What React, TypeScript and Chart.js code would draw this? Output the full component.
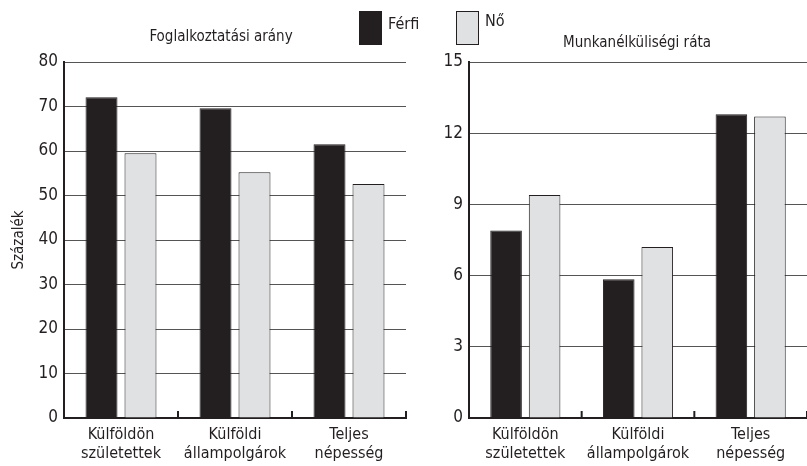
import React, { useEffect, useRef } from 'react';
import { Chart, registerables } from 'chart.js';

Chart.register(...registerables);

const categories = [
  ['Külföldön', 'születettek'],
  ['Külföldi', 'állampolgárok'],
  ['Teljes', 'népesség'],
];
const seriesNames = ['Férfi', 'Nő'];
const employmentMale = [72.1, 69.6, 61.5];
const employmentFemale = [59.5, 55.2, 52.6];
const unemploymentMale = [7.9, 5.85, 12.8];
const unemploymentFemale = [9.4, 7.2, 12.7];
const employmentTicks = [0, 10, 20, 30, 40, 50, 60, 70, 80];
const unemploymentTicks = [0, 3, 6, 9, 12, 15];
const leftTitle = 'Foglalkoztatási arány';
const rightTitle = 'Munkanélküliségi ráta';
const yAxisTitle = 'Százalék';

const FONT = '"Liberation Sans Narrow", "DejaVu Sans Condensed", "Roboto Condensed", "Liberation Sans", sans-serif';
const BLACK = '#231f20';
const GRAY = '#e0e1e3';

const insideTicks = {
  id: 'insideTicks',
  afterDraw(chart: any) {
    const x = chart.scales.x;
    const ctx = chart.ctx;
    const n = chart.data.labels.length;
    const bottom = chart.chartArea.bottom;
    const step = x.getPixelForValue(1) - x.getPixelForValue(0);
    ctx.save();
    ctx.strokeStyle = BLACK;
    ctx.lineWidth = 2;
    for (let i = 0; i < n; i++) {
      const px = Math.min(x.getPixelForValue(i) + step / 2, chart.chartArea.right);
      ctx.beginPath();
      ctx.moveTo(px, bottom);
      ctx.lineTo(px, bottom - 7);
      ctx.stroke();
    }
    ctx.restore();
  },
};

function makeConfig(male: number[], female: number[], ticks: number[], yWidth: number, showTitle: boolean, padRight: number) {
  return {
    type: 'bar' as const,
    data: {
      labels: categories,
      datasets: [
        { label: seriesNames[0], data: male, backgroundColor: BLACK, borderColor: BLACK, borderWidth: 1 },
        { label: seriesNames[1], data: female, backgroundColor: GRAY, borderColor: BLACK, borderWidth: 1 },
      ],
    },
    options: {
      animation: false as const,
      responsive: false,
      maintainAspectRatio: false,
      datasets: { bar: { categoryPercentage: 0.684, barPercentage: 0.82 } },
      layout: { padding: { top: 62, right: padRight, left: 0, bottom: 0 } },
      plugins: { legend: { display: false }, title: { display: false }, tooltip: { enabled: false } },
      scales: {
        x: {
          offset: true,
          grid: { display: false, drawTicks: false },
          border: { display: true, color: BLACK, width: 2 },
          ticks: { color: BLACK, font: { family: FONT, size: 16, lineHeight: 1.15 }, padding: 8, maxRotation: 0, autoSkip: false },
          afterFit: (s: any) => { s.height = 48; },
        },
        y: {
          min: ticks[0],
          max: ticks[ticks.length - 1],
          afterBuildTicks: (s: any) => { s.ticks = ticks.map((v) => ({ value: v })); },
          grid: { color: '#555', lineWidth: 1, drawTicks: false },
          border: { display: true, color: BLACK, width: 2 },
          ticks: { color: BLACK, font: { family: FONT, size: 17 }, padding: 6 },
          title: { display: showTitle, text: yAxisTitle, color: BLACK, font: { family: FONT, size: 15 }, padding: { top: 10, bottom: 0 } },
          afterFit: (s: any) => { s.width = yWidth; },
        },
      },
    },
    plugins: [insideTicks],
  };
}

function BarPanel(props: { male: number[]; female: number[]; ticks: number[]; yWidth: number; showTitle: boolean; width: number; padRight: number }) {
  const ref = useRef<HTMLCanvasElement>(null);
  useEffect(() => {
    const chart = new Chart(ref.current as HTMLCanvasElement, makeConfig(props.male, props.female, props.ticks, props.yWidth, props.showTitle, props.padRight) as any);
    return () => chart.destroy();
  }, []);
  return <canvas ref={ref} width={props.width} height={466} style={{ display: 'block', width: props.width, height: 466 }} />;
}

const textStyle: React.CSSProperties = {
  position: 'absolute',
  fontFamily: FONT,
  color: BLACK,
  whiteSpace: 'nowrap',
  lineHeight: 1,
};

export default function App() {
  return (
    <div style={{ position: 'fixed', left: 0, top: 0, width: 807, height: 466, background: '#fff', overflow: 'hidden' }}>
      <div style={{ position: 'absolute', left: 0, top: 0 }}>
        <BarPanel male={employmentMale} female={employmentFemale} ticks={employmentTicks} yWidth={64} showTitle={true} width={420} padRight={14} />
      </div>
      <div style={{ position: 'absolute', left: 420, top: 0 }}>
        <BarPanel male={unemploymentMale} female={unemploymentFemale} ticks={unemploymentTicks} yWidth={49} showTitle={false} width={387} padRight={0} />
      </div>
      <div style={{ ...textStyle, left: 121, top: 29, width: 200, textAlign: 'center', fontSize: 15 }}>{leftTitle}</div>
      <div style={{ ...textStyle, left: 537, top: 35, width: 200, textAlign: 'center', fontSize: 15 }}>{rightTitle}</div>
      <div style={{ position: 'absolute', left: 359, top: 11, width: 23, height: 34, background: BLACK, border: `1px solid ${BLACK}`, boxSizing: 'border-box' }} />
      <div style={{ ...textStyle, left: 388, top: 16, fontSize: 16 }}>{seriesNames[0]}</div>
      <div style={{ position: 'absolute', left: 456, top: 11, width: 23, height: 34, background: GRAY, border: `1px solid ${BLACK}`, boxSizing: 'border-box' }} />
      <div style={{ ...textStyle, left: 485, top: 13, fontSize: 16 }}>{seriesNames[1]}</div>
    </div>
  );
}
